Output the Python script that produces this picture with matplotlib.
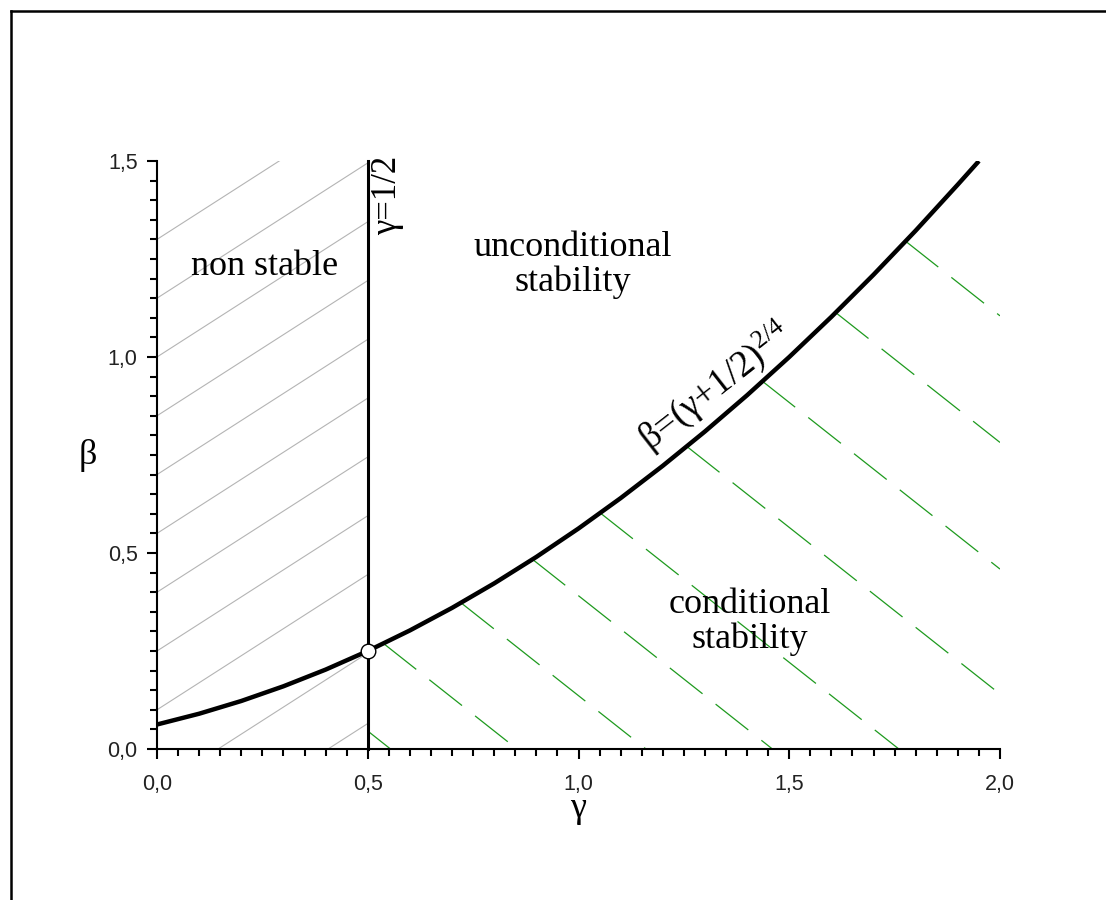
import numpy as np
import matplotlib
matplotlib.use("Agg")
import matplotlib.pyplot as plt
from matplotlib.lines import Line2D
from matplotlib.ticker import FuncFormatter, MultipleLocator

plt.rcParams['lines.scale_dashes'] = False
plt.rcParams['mathtext.fontset'] = 'custom'
plt.rcParams['mathtext.rm'] = 'Liberation Serif'
plt.rcParams['mathtext.it'] = 'Liberation Serif'

# boundary curve beta = (gamma + 1/2)^2 / 4
gamma = [0.0, 0.1, 0.2, 0.3, 0.4, 0.5, 0.6, 0.7, 0.8, 0.9, 1.0,
         1.1, 1.2, 1.3, 1.4, 1.5, 1.6, 1.7, 1.8, 1.9, 1.95]
beta = [0.0625, 0.09, 0.1225, 0.16, 0.2025, 0.25, 0.3025, 0.36, 0.4225, 0.49, 0.5625,
        0.64, 0.7225, 0.81, 0.9025, 1.0, 1.1025, 1.21, 1.3225, 1.44, 1.5]

# vertical limit gamma = 1/2 and the point where it meets the curve
gamma_half = 0.5
point = (0.5, 0.25)

# hatching: gray lines (non stable), green dashed lines (conditional)
gray_offsets = [1.30, 1.15, 1.0, 0.85, 0.70, 0.55, 0.40, 0.25, 0.10, -0.10, -0.28]
gray_slope = 0.69
green_xcuts = [0.554, 0.854, 1.16, 1.46, 1.76, 2.165, 2.54, 2.92, 3.30]
green_slope = 0.85

xticks = [0.0, 0.5, 1.0, 1.5, 2.0]
yticks = [0.0, 0.5, 1.0, 1.5]

fig = plt.figure(figsize=(11.06, 9.0), dpi=100)
ax = fig.add_axes([157 / 1106, 1 - 749 / 900, 843 / 1106, 588 / 900])

# gray hatch, left of gamma = 1/2
for c in gray_offsets:
    ax.plot([0, gamma_half], [c, c + gray_slope * gamma_half], color='#b4b4b4', lw=0.8, zorder=1)

# green dashed hatch, under the curve, right of gamma = 1/2
xs = np.linspace(gamma_half, 2.0, 3001)
curve_y = np.interp(xs, gamma, beta)
for c in green_xcuts:
    line_y = green_slope * (c - xs)
    above = np.nonzero(line_y <= curve_y)[0]
    x0 = xs[above[0]]
    x1 = min(2.0, c)
    ax.plot([x0, x1], [green_slope * (c - x0), green_slope * (c - x1)],
            color='#1e9a1e', lw=0.9, dashes=(30, 12), zorder=1)

ax.plot(gamma, beta, color='black', lw=3.2, zorder=3, solid_capstyle='butt')
ax.plot([gamma_half, gamma_half], [0, 1.5], color='black', lw=2.2, zorder=4, clip_on=False)
ax.plot([point[0]], [point[1]], 'o', ms=10.5, mfc='white', mec='black', mew=1.0, zorder=5)

serif = 'Liberation Serif'
ax.text(0.256, 1.232, 'non stable', fontsize=26, family=serif, ha='center', va='center')
ax.text(0.987, 1.235, 'unconditional\nstability', fontsize=26, family=serif,
        ha='center', va='center', linespacing=1.05)
ax.text(1.407, 0.324, 'conditional\nstability', fontsize=26, family=serif,
        ha='center', va='center', linespacing=1.05)
ax.text(0.548, 1.413, 'γ=1/2', fontsize=25, family=serif, rotation=90,
        ha='center', va='center')
ax.text(1.325, 0.925, r'β=(γ+1/2)$^{2/4}$', fontsize=26.5, family=serif, rotation=38,
        ha='center', va='center', rotation_mode='anchor')

ax.set_xlim(0, 2.0)
ax.set_ylim(0, 1.5)
ax.set_xticks(xticks)
ax.set_yticks(yticks)
ax.xaxis.set_minor_locator(MultipleLocator(0.05))
ax.yaxis.set_minor_locator(MultipleLocator(0.05))
comma = FuncFormatter(lambda v, pos: ('%.1f' % v).replace('.', ','))
ax.xaxis.set_major_formatter(comma)
ax.yaxis.set_major_formatter(comma)
ax.tick_params(which='major', length=7, width=1.5, labelsize=15.5, labelcolor='#222222')
ax.tick_params(axis='x', which='major', pad=11)
ax.tick_params(axis='y', which='major', pad=7)
ax.tick_params(which='minor', length=5, width=1.5)
for lab in ax.get_xticklabels() + ax.get_yticklabels():
    lab.set_family('Liberation Sans')

for side in ['top', 'right']:
    ax.spines[side].set_visible(False)
for side in ['left', 'bottom']:
    ax.spines[side].set_linewidth(1.5)

ax.set_xlabel('γ', fontsize=26, family=serif)
ax.set_ylabel('β', fontsize=26, family=serif, rotation=0)
ax.xaxis.set_label_coords(0.5, -0.102)
ax.yaxis.set_label_coords(-0.082, 0.5)
ax.xaxis.label.set_va('center')
ax.yaxis.label.set_va('center')
ax.yaxis.label.set_ha('center')

# frame drawn around the picture (left and top edges)
fig.add_artist(Line2D([10.5 / 1106, 10.5 / 1106], [0, 1 - 11 / 900], color='black', lw=1.8,
                      transform=fig.transFigure))
fig.add_artist(Line2D([10.5 / 1106, 1], [1 - 11 / 900, 1 - 11 / 900], color='black', lw=1.8,
                      transform=fig.transFigure))

fig.savefig('out.png', dpi=100)
